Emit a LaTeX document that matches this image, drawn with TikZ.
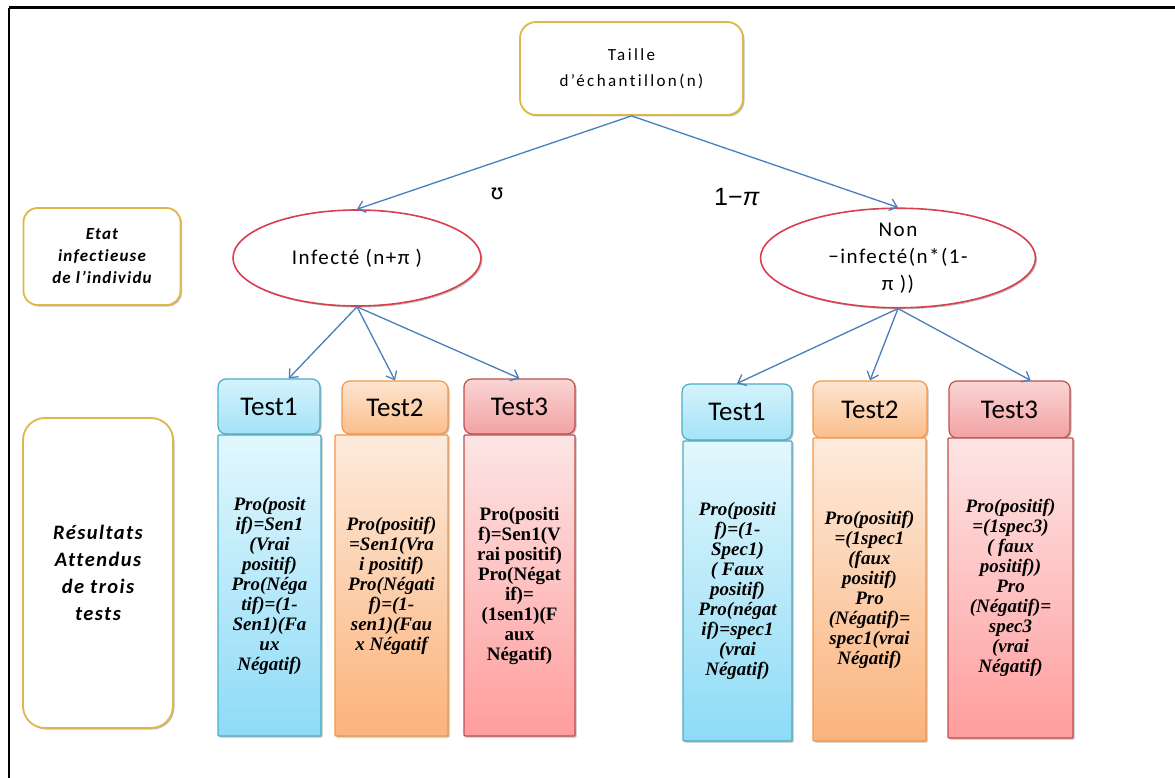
\documentclass[tikz,border=0pt]{standalone}
\usepackage{fontspec}
\setmainfont{Liberation Serif}
\newfontfamily\carl{Carlito}
\newfontfamily\carlsp[LetterSpace=14,Ligatures={NoCommon}]{Carlito}
\newfontfamily\carlmid[LetterSpace=7,Ligatures={NoCommon}]{Carlito}
\newfontfamily\arialf{Liberation Sans}
\newfontfamily\dejavu{DejaVu Sans}
\usetikzlibrary{shapes.geometric,arrows.meta,shadows}
\definecolor{cyB}{HTML}{4BACC6}
\definecolor{cyHT}{HTML}{D4F3FC}
\definecolor{cyHB}{HTML}{A3E3F7}
\definecolor{cyT}{HTML}{E2F7FD}
\definecolor{cyBt}{HTML}{8EDBF6}
\definecolor{orB}{HTML}{F79646}
\definecolor{orHT}{HTML}{FDE5D0}
\definecolor{orHB}{HTML}{FBBE8C}
\definecolor{orT}{HTML}{FDEBDD}
\definecolor{orBt}{HTML}{FBB37B}
\definecolor{rdB}{HTML}{C0504D}
\definecolor{rdHT}{HTML}{FAD4D4}
\definecolor{rdHB}{HTML}{F2A2A2}
\definecolor{rdT}{HTML}{FDE5E5}
\definecolor{rdBt}{HTML}{FF9D9D}
\definecolor{goldB}{HTML}{DDB848}
\definecolor{ellB}{HTML}{D8404E}
\definecolor{arrB}{HTML}{4A7EBB}
\tikzset{
  shad/.style={drop shadow={shadow xshift=1.5pt,shadow yshift=-1.5pt,opacity=0.25,fill=black}},
  hdr/.style={rectangle,rounded corners=8pt,line width=1.2pt,shad,inner sep=0pt,
    font={\carl\fontsize{27}{30}\selectfont}},
  bodybox/.style={rectangle,rounded corners=1pt,line width=1.2pt,shad,inner sep=0pt},
  hcy/.style={hdr,draw=cyB,top color=cyHT,bottom color=cyHB},
  hor/.style={hdr,draw=orB,top color=orHT,bottom color=orHB},
  hrd/.style={hdr,draw=rdB,top color=rdHT,bottom color=rdHB},
  bcy/.style={bodybox,draw=cyB,top color=cyT,bottom color=cyBt},
  bor/.style={bodybox,draw=orB,top color=orT,bottom color=orBt},
  brd/.style={bodybox,draw=rdB,top color=rdT,bottom color=rdBt},
  btext/.style={align=center,inner sep=0pt,font={\bfseries\itshape\fontsize{19}{20}\selectfont}},
  btextup/.style={align=center,inner sep=0pt,font={\bfseries\fontsize{19}{20}\selectfont}},
  goldbox/.style={rectangle,draw=goldB,line width=1.8pt,fill=white,shad,inner sep=0pt},
  ellnode/.style={ellipse,draw=ellB,line width=1.6pt,fill=white,shad,inner sep=0pt,
    minimum height=96pt,align=center,font={\carlmid\fontsize{21}{27}\selectfont}},
  conn/.style={draw=arrB,line width=1.3pt,-{Straight Barb[length=7pt,width=12pt,line width=1.3pt]}}
}
\begin{document}
\begin{tikzpicture}[x=1pt,y=-1pt]
\useasboundingbox (0,0) rectangle (1175,778);
\fill[white] (0,0) rectangle (1175,778);
% frame (top and left)
\draw[line width=3pt] (9,8) -- (1175,8);
\draw[line width=2.5pt] (9,8) -- (9,778);

% top box
\node[goldbox,rounded corners=16pt,minimum width=223pt,minimum height=93pt,align=center,
  font={\carlsp\fontsize{17}{26}\selectfont}] (top) at (631.5,68.5) {Taille\\d’échantillon(n)};

% left labels
\node[goldbox,rounded corners=14pt,minimum width=157pt,minimum height=97pt,align=center,
  font={\carlmid\bfseries\itshape\fontsize{17}{22}\selectfont}] (etat) at (102,256.5)
  {Etat\\infectieuse\\de l’individu};
\node[goldbox,rounded corners=22pt,minimum width=150pt,minimum height=310pt,align=center,
  font={\carlmid\bfseries\itshape\fontsize{20.5}{27}\selectfont}] (res) at (98,573)
  {Résultats\\Attendus\\de trois\\tests};

% ellipses
\node[ellnode,minimum width=248pt] (eL) at (357,258) {Infecté (n+π )};
\node[ellnode,minimum width=275pt] (eR) at (898,258) {Non\\−infecté(n*(1-\\π ))};

% branch labels
\node[font={\dejavu\fontsize{21}{21}\selectfont},inner sep=0pt] (lp) at (497,194) {ʊ};
\node[font={\arialf\fontsize{25}{25}\selectfont},inner sep=0pt] (lq) at (737,197) {1−\textit{π}};

% left tests
\node[hcy,minimum width=102pt,minimum height=55pt] (lt1h) at (269,406.5) {Test1};
\node[bcy,minimum width=103pt,minimum height=301pt] (lt1b) at (269.5,585.5) {};
\node[btext] (lt1t) at (lt1b.center) {Pro(posit\\if)=Sen1\\(Vrai\\positif)\\Pro(Néga\\tif)=(1-\\Sen1)(Fa\\ux\\Négatif)};

\node[hor,minimum width=106pt,minimum height=53pt] (lt2h) at (395,407.5) {Test2};
\node[bor,minimum width=113pt,minimum height=301pt] (lt2b) at (391.5,585.5) {};
\node[btext] (lt2t) at (lt2b.center) {Pro(positif)\\=Sen1(Vra\\i positif)\\Pro(Négati\\f)=(1-\\sen1)(Fau\\x Négatif};

\node[hrd,minimum width=111pt,minimum height=55pt] (lt3h) at (519.5,406.5) {Test3};
\node[brd,minimum width=111pt,minimum height=301pt] (lt3b) at (519.5,585.5) {};
\node[btextup] (lt3t) at (lt3b.center) {Pro(positi\\f)=Sen1(V\\rai positif)\\Pro(Négat\\if)=\\(1sen1)(F\\aux\\Négatif)};

% right tests
\node[hcy,minimum width=110pt,minimum height=56pt] (rt1h) at (737,412) {Test1};
\node[bcy,minimum width=109pt,minimum height=300pt] (rt1b) at (737.5,591) {};
\node[btext] (rt1t) at (rt1b.center) {Pro(positi\\f)=(1-\\Spec1)\\( Faux\\positif)\\Pro(négat\\if)=spec1\\(vrai\\Négatif)};

\node[hor,minimum width=114pt,minimum height=57pt] (rt2h) at (870,409.5) {Test2};
\node[bor,minimum width=113pt,minimum height=303pt] (rt2b) at (869.5,589.5) {};
\node[btext] (rt2t) at (rt2b.center) {Pro(positif)\\=(1spec1\\(faux\\positif)\\Pro\\(Négatif)=\\spec1(vrai\\Négatif)};

\node[hrd,minimum width=121pt,minimum height=57pt] (rt3h) at (1009.5,409.5) {Test3};
\node[brd,minimum width=125pt,minimum height=300pt] (rt3b) at (1010.5,588) {};
\node[btext] (rt3t) at (rt3b.center) {Pro(positif)\\=(1spec3)\\( faux\\positif))\\Pro\\(Négatif)=\\spec3\\(vrai\\Négatif)};

% connectors
\draw[conn] (top.south) -- (eL.north);
\draw[conn] (top.south) -- (eR.north);
\draw[conn] (eL.south) -- (lt1h.55);
\draw[conn] (eL.south) -- (lt2h.north);
\draw[conn] (eL.south) -- (lt3h.north);
\draw[conn] (eR.south) -- (rt1h.north);
\draw[conn] (eR.south) -- (rt2h.north);
\draw[conn] (eR.south) -- (rt3h.54);
\end{tikzpicture}
\end{document}
